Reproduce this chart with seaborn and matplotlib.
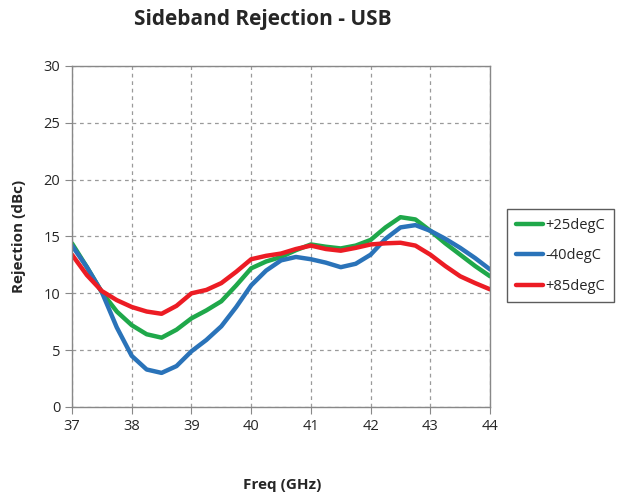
import numpy as np
import pandas as pd
import matplotlib
matplotlib.use("Agg")
import matplotlib.pyplot as plt
import seaborn as sns

# =========================================
# DATA
# =========================================

freq_ghz = [37.0, 37.25, 37.5, 37.75, 38.0, 38.25, 38.5, 38.75, 39.0, 39.25,
            39.5, 39.75, 40.0, 40.25, 40.5, 40.75, 41.0, 41.25, 41.5, 41.75,
            42.0, 42.25, 42.5, 42.75, 43.0, 43.25, 43.5, 43.75, 44.0]

rej_p25 = [14.4, 12.3, 10.1, 8.4, 7.2, 6.4, 6.1, 6.8, 7.8, 8.5,
           9.3, 10.7, 12.2, 12.8, 13.2, 13.8, 14.3, 14.1, 13.95, 14.2,
           14.7, 15.8, 16.7, 16.5, 15.5, 14.4, 13.4, 12.4, 11.5]

rej_m40 = [14.2, 12.3, 10.1, 7.0, 4.5, 3.3, 3.0, 3.6, 4.9, 5.9,
           7.1, 8.8, 10.7, 12.0, 12.9, 13.2, 13.0, 12.7, 12.3, 12.6,
           13.4, 14.8, 15.8, 16.0, 15.5, 14.8, 14.0, 13.1, 12.1]

rej_p85 = [13.4, 11.6, 10.2, 9.4, 8.8, 8.4, 8.2, 8.9, 10.0, 10.3,
           10.9, 11.9, 13.0, 13.3, 13.5, 13.9, 14.2, 13.9, 13.75, 14.0,
           14.3, 14.4, 14.45, 14.2, 13.4, 12.4, 11.5, 10.9, 10.35]

series_names = ["+25degC", "-40degC", "+85degC"]
series_colors = ["#1fa84a", "#2a73b9", "#ec1c24"]

x_ticks = [37, 38, 39, 40, 41, 42, 43, 44]
y_ticks = [0, 5, 10, 15, 20, 25, 30]

df = pd.concat([
    pd.DataFrame({"freq": freq_ghz, "rej": vals, "temp": name})
    for name, vals in zip(series_names, [rej_p25, rej_m40, rej_p85])
])

# =========================================
# PLOT
# =========================================

sns.set_style("white")
plt.rcParams["font.family"] = ["Open Sans", "DejaVu Sans"]
plt.rcParams["lines.solid_joinstyle"] = "round"
plt.rcParams["lines.solid_capstyle"] = "round"

fig = plt.figure(figsize=(6.18, 5.0), dpi=100)
ax = fig.add_axes([0.1165, 0.186, 0.6765, 0.682])

sns.lineplot(
    data=df, x="freq", y="rej", hue="temp",
    hue_order=series_names,
    palette=dict(zip(series_names, series_colors)),
    linewidth=3.2, ax=ax
)

ax.set_xlim(37, 44)
ax.set_ylim(0, 30)
ax.set_xticks(x_ticks)
ax.set_yticks(y_ticks)
ax.tick_params(axis="both", labelsize=10.5, length=5, color="#888888",
               direction="out", left=True, bottom=True)

ax.grid(True, linestyle=(0, (3, 3)), color="#9a9a9a", linewidth=0.9)
for s in ax.spines.values():
    s.set_color("#888888")
    s.set_linewidth(1.0)

ax.set_xlabel("")
ax.set_ylabel("")
fig.text(0.456, 0.03, "Freq (GHz)", ha="center", va="center",
         fontsize=11, fontweight="bold")
fig.text(0.03, 0.528, "Rejection (dBc)", ha="center", va="center",
         rotation=90, fontsize=11, fontweight="bold")
fig.text(0.426, 0.962, "Sideband Rejection - USB", ha="center", va="center",
         fontsize=15, fontweight="bold")

leg = ax.legend(
    title=None, loc="center left", bbox_to_anchor=(1.04, 0.443),
    fontsize=10.5, frameon=True, fancybox=False, handlelength=1.9,
    handletextpad=0.15, borderpad=0.6, labelspacing=1.05,
    borderaxespad=0.0
)
leg.get_frame().set_edgecolor("#333333")
leg.get_frame().set_linewidth(1.0)

fig.savefig("out.png", dpi=100, facecolor="white")
